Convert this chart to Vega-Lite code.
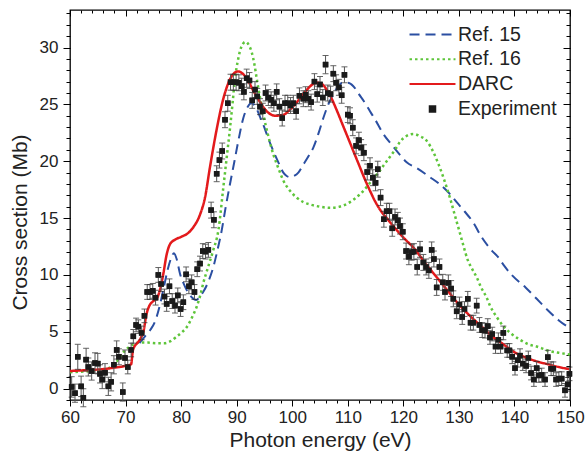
{
  "$schema": "https://vega.github.io/schema/vega-lite/v6.json",
  "width": 500,
  "height": 390,
  "autosize": {"type": "none"},
  "padding": {"left": 70, "top": 10, "right": 15, "bottom": 55},
  "background": "white",
  "config": {
    "view": {"stroke": "black", "strokeWidth": 1.3},
    "font": "Liberation Sans",
    "axis": {"grid": false, "domain": false, "tickColor": "black", "tickWidth": 1, "labelColor": "#222", "titleColor": "#222", "labelFont": "Liberation Sans", "titleFont": "Liberation Sans", "titleFontWeight": "normal", "labelFlush": false, "labelOverlap": false}
  },
  "datasets": {
    "ref15": [
      {"E":72.5,"v":4.0},{"E":73.5,"v":4.6},{"E":74.5,"v":5.2},{"E":75.3,"v":5.9},{"E":76,"v":7.0},{"E":76.8,"v":8.7},{"E":77.6,"v":10.5},{"E":78.3,"v":11.6},{"E":78.7,"v":11.9},{"E":79.2,"v":11.4},{"E":79.8,"v":10.1},{"E":80.5,"v":9.2},{"E":81.2,"v":8.5},{"E":82,"v":8.0},{"E":82.7,"v":7.8},{"E":83.4,"v":8.1},{"E":84.1,"v":8.6},{"E":84.8,"v":9.3},{"E":85.8,"v":10.7},{"E":86.6,"v":12.3},{"E":87.3,"v":13.9},{"E":88,"v":15.9},{"E":88.8,"v":18.0},{"E":89.6,"v":20.0},{"E":90.3,"v":21.8},{"E":91.2,"v":23.8},{"E":92,"v":24.8},{"E":92.6,"v":25.1},{"E":93.4,"v":24.8},{"E":94.2,"v":23.9},{"E":94.8,"v":23.2},{"E":95.7,"v":22.0},{"E":96.6,"v":20.9},{"E":97.5,"v":19.9},{"E":98.4,"v":19.0},{"E":99,"v":18.7},{"E":99.6,"v":18.6},{"E":100.3,"v":18.7},{"E":101.1,"v":19.0},{"E":102,"v":19.7},{"E":103,"v":20.5},{"E":103.8,"v":21.2},{"E":104.7,"v":22.4},{"E":105.6,"v":23.8},{"E":106.5,"v":25.0},{"E":107.4,"v":25.9},{"E":108.3,"v":26.6},{"E":109,"v":26.9},{"E":110,"v":26.9},{"E":111,"v":26.6},{"E":112,"v":25.9},{"E":113.4,"v":24.9},{"E":114,"v":24.4},{"E":115,"v":23.6},{"E":116.4,"v":22.4},{"E":118,"v":21.4},{"E":119.5,"v":20.5},{"E":120.6,"v":19.9},{"E":122.4,"v":19.4},{"E":124.8,"v":18.6},{"E":126.5,"v":18.0},{"E":128.4,"v":17.1},{"E":129.6,"v":16.4},{"E":131,"v":15.6},{"E":132.6,"v":14.6},{"E":134,"v":13.4},{"E":136,"v":12.1},{"E":137,"v":11.6},{"E":138,"v":10.9},{"E":139.5,"v":10.0},{"E":142,"v":8.9},{"E":144,"v":7.9},{"E":146,"v":6.9},{"E":148,"v":6.0},{"E":150,"v":5.3}
    ],
    "ref16": [
      {"E":60,"v":1.45},{"E":64,"v":1.55},{"E":66,"v":1.65},{"E":67.5,"v":1.95},{"E":68.3,"v":2.3},{"E":69,"v":2.8},{"E":69.8,"v":3.3},{"E":70.6,"v":3.65},{"E":71.5,"v":3.9},{"E":72.5,"v":4.05},{"E":74,"v":4.05},{"E":75.5,"v":4.0},{"E":77,"v":4.0},{"E":78,"v":4.15},{"E":79,"v":4.5},{"E":80,"v":4.9},{"E":81,"v":5.4},{"E":82,"v":6.3},{"E":82.8,"v":7.2},{"E":83.5,"v":8.3},{"E":84,"v":9.3},{"E":84.8,"v":10.6},{"E":85.8,"v":12.2},{"E":86.7,"v":13.9},{"E":87.6,"v":17.7},{"E":88.2,"v":20.3},{"E":88.8,"v":22.9},{"E":89.3,"v":25.3},{"E":89.7,"v":27.3},{"E":90.2,"v":28.8},{"E":90.6,"v":29.7},{"E":91.1,"v":30.3},{"E":91.6,"v":30.5},{"E":92.2,"v":30.2},{"E":92.7,"v":29.6},{"E":93.2,"v":28.5},{"E":93.6,"v":27.3},{"E":94.2,"v":25.6},{"E":94.8,"v":24.1},{"E":95.7,"v":22.2},{"E":96.6,"v":20.6},{"E":97.5,"v":19.4},{"E":98.4,"v":18.3},{"E":99.6,"v":17.4},{"E":100.8,"v":16.8},{"E":102,"v":16.4},{"E":103.2,"v":16.2},{"E":105,"v":16.0},{"E":106.8,"v":15.9},{"E":108.5,"v":16.0},{"E":110.4,"v":16.4},{"E":112.2,"v":17.1},{"E":113,"v":17.5},{"E":114,"v":18.1},{"E":115.5,"v":19.0},{"E":117,"v":20.0},{"E":118.5,"v":21.0},{"E":119.4,"v":21.7},{"E":120.5,"v":22.2},{"E":121.8,"v":22.4},{"E":123,"v":22.2},{"E":124.2,"v":21.8},{"E":125.4,"v":20.8},{"E":126.6,"v":19.4},{"E":127.8,"v":17.7},{"E":128.5,"v":16.6},{"E":129.3,"v":15.2},{"E":130,"v":14.0},{"E":130.8,"v":12.6},{"E":131.6,"v":11.3},{"E":132.3,"v":10.6},{"E":133.2,"v":9.8},{"E":134,"v":8.9},{"E":135,"v":8.0},{"E":135.6,"v":7.3},{"E":136.8,"v":6.3},{"E":138,"v":5.5},{"E":139.5,"v":4.8},{"E":141,"v":4.3},{"E":142.5,"v":3.9},{"E":144,"v":3.7},{"E":146.4,"v":3.3},{"E":148,"v":3.15},{"E":150,"v":3.0}
    ],
    "darc": [
      {"E":60,"v":1.55},{"E":62,"v":1.6},{"E":64,"v":1.65},{"E":66,"v":1.72},{"E":68,"v":1.85},{"E":70,"v":2.0},{"E":71,"v":2.15},{"E":71.3,"v":3.3},{"E":71.6,"v":3.7},{"E":72,"v":3.95},{"E":72.8,"v":4.5},{"E":73.3,"v":5.2},{"E":73.7,"v":6.4},{"E":74.2,"v":7.2},{"E":75,"v":7.7},{"E":75.7,"v":8.0},{"E":76.3,"v":8.9},{"E":76.8,"v":10.1},{"E":77.4,"v":11.8},{"E":78,"v":12.7},{"E":78.9,"v":13.1},{"E":80,"v":13.35},{"E":81.3,"v":13.7},{"E":82.2,"v":14.2},{"E":83.4,"v":15.3},{"E":84.3,"v":16.8},{"E":85.2,"v":19.5},{"E":86.4,"v":22.8},{"E":87.6,"v":25.5},{"E":88.8,"v":27.2},{"E":90.2,"v":27.9},{"E":91.8,"v":27.3},{"E":93,"v":26.2},{"E":94.2,"v":25.2},{"E":95.4,"v":24.4},{"E":97,"v":24.0},{"E":98.5,"v":24.1},{"E":99.5,"v":24.5},{"E":100.5,"v":25.0},{"E":101.5,"v":25.6},{"E":102.5,"v":26.2},{"E":103.5,"v":26.7},{"E":104.5,"v":26.9},{"E":105.3,"v":26.8},{"E":106.2,"v":26.3},{"E":107,"v":25.6},{"E":108,"v":24.5},{"E":109,"v":23.3},{"E":110,"v":22.1},{"E":111,"v":20.9},{"E":112,"v":19.7},{"E":113,"v":18.5},{"E":114,"v":17.4},{"E":115,"v":16.4},{"E":116,"v":15.6},{"E":117,"v":15.0},{"E":118,"v":14.4},{"E":120,"v":13.3},{"E":122,"v":12.3},{"E":124,"v":11.0},{"E":126,"v":9.8},{"E":128,"v":8.6},{"E":130,"v":7.4},{"E":132,"v":6.4},{"E":134,"v":5.5},{"E":136,"v":4.6},{"E":138,"v":3.9},{"E":140,"v":3.2},{"E":142,"v":2.75},{"E":144,"v":2.4},{"E":146,"v":2.15},{"E":148,"v":1.9},{"E":150,"v":1.7}
    ],
    "exp": [
      {"E":60.3,"v":0.15,"err":0.9},{"E":60.9,"v":-0.4,"err":0.8},{"E":61.4,"v":2.8,"err":1.1},{"E":62.0,"v":0.2,"err":0.9},{"E":62.4,"v":-0.8,"err":0.8},{"E":62.9,"v":2.55,"err":1.0},{"E":63.3,"v":1.9,"err":0.8},{"E":63.9,"v":1.55,"err":0.8},{"E":64.5,"v":2.25,"err":0.9},{"E":65.0,"v":2.2,"err":0.9},{"E":65.4,"v":1.3,"err":0.8},{"E":65.8,"v":0.8,"err":0.8},{"E":66.3,"v":1.4,"err":0.8},{"E":66.9,"v":0.2,"err":0.8},{"E":67.4,"v":0.6,"err":0.8},{"E":67.9,"v":2.1,"err":0.8},{"E":68.4,"v":3.4,"err":0.8},{"E":68.8,"v":2.8,"err":0.7},{"E":69.5,"v":-0.3,"err":0.8},{"E":69.9,"v":2.7,"err":0.7},{"E":70.4,"v":1.9,"err":0.6},{"E":71.0,"v":3.4,"err":0.6},{"E":71.4,"v":4.6,"err":0.6},{"E":71.9,"v":5.6,"err":0.6},{"E":72.3,"v":5.45,"err":0.6},{"E":72.9,"v":4.9,"err":0.6},{"E":73.4,"v":6.4,"err":0.6},{"E":73.9,"v":8.5,"err":0.65},{"E":74.4,"v":8.5,"err":0.65},{"E":74.9,"v":8.6,"err":0.65},{"E":75.4,"v":8.0,"err":0.65},{"E":75.9,"v":10.0,"err":0.65},{"E":76.4,"v":9.2,"err":0.65},{"E":77.0,"v":8.1,"err":0.65},{"E":77.4,"v":7.45,"err":0.65},{"E":77.9,"v":9.0,"err":0.65},{"E":78.4,"v":7.7,"err":0.65},{"E":78.9,"v":7.3,"err":0.65},{"E":79.4,"v":8.2,"err":0.65},{"E":79.9,"v":7.0,"err":0.65},{"E":80.4,"v":7.6,"err":0.65},{"E":80.9,"v":10.05,"err":0.65},{"E":81.4,"v":9.0,"err":0.65},{"E":81.9,"v":9.35,"err":0.65},{"E":82.4,"v":8.5,"err":0.65},{"E":82.9,"v":10.5,"err":0.65},{"E":83.4,"v":11.0,"err":0.65},{"E":83.9,"v":12.1,"err":0.65},{"E":84.4,"v":12.05,"err":0.65},{"E":84.9,"v":12.2,"err":0.65},{"E":85.4,"v":15.7,"err":0.7},{"E":85.9,"v":14.85,"err":0.7},{"E":86.4,"v":18.9,"err":0.7},{"E":86.9,"v":20.1,"err":0.7},{"E":87.4,"v":20.9,"err":0.7},{"E":87.9,"v":23.65,"err":0.7},{"E":88.4,"v":25.1,"err":0.7},{"E":88.9,"v":26.95,"err":0.7},{"E":89.4,"v":26.95,"err":0.7},{"E":89.9,"v":26.95,"err":0.7},{"E":90.4,"v":26.9,"err":0.7},{"E":90.9,"v":26.6,"err":0.7},{"E":91.3,"v":26.1,"err":0.7},{"E":91.8,"v":27.3,"err":0.8},{"E":92.3,"v":27.1,"err":0.7},{"E":92.8,"v":25.35,"err":0.7},{"E":93.3,"v":26.3,"err":0.7},{"E":93.7,"v":25.7,"err":0.7},{"E":94.2,"v":24.8,"err":0.7},{"E":94.7,"v":24.4,"err":0.7},{"E":95.2,"v":26.0,"err":0.7},{"E":95.7,"v":25.6,"err":0.7},{"E":96.2,"v":25.4,"err":0.7},{"E":96.7,"v":25.1,"err":0.7},{"E":97.2,"v":26.1,"err":0.7},{"E":97.7,"v":24.8,"err":0.7},{"E":98.2,"v":23.8,"err":0.7},{"E":98.7,"v":25.1,"err":0.7},{"E":99.2,"v":25.1,"err":0.7},{"E":99.7,"v":24.9,"err":0.7},{"E":100.2,"v":25.1,"err":0.7},{"E":100.7,"v":24.4,"err":0.7},{"E":101.3,"v":25.75,"err":0.7},{"E":102.0,"v":25.5,"err":0.7},{"E":102.4,"v":25.85,"err":0.7},{"E":102.9,"v":25.5,"err":0.7},{"E":103.4,"v":25.2,"err":0.7},{"E":104.0,"v":27.0,"err":0.7},{"E":104.5,"v":25.9,"err":0.7},{"E":105.0,"v":26.75,"err":0.7},{"E":105.5,"v":25.6,"err":0.7},{"E":106.0,"v":28.5,"err":0.8},{"E":106.4,"v":26.0,"err":0.7},{"E":106.9,"v":25.9,"err":0.7},{"E":107.4,"v":27.7,"err":0.7},{"E":107.9,"v":26.9,"err":0.7},{"E":108.4,"v":26.5,"err":0.7},{"E":108.9,"v":25.8,"err":0.7},{"E":109.4,"v":27.6,"err":0.7},{"E":110.0,"v":24.1,"err":0.7},{"E":110.4,"v":24.0,"err":0.7},{"E":110.9,"v":22.95,"err":0.7},{"E":111.5,"v":21.35,"err":0.7},{"E":112.0,"v":21.85,"err":0.7},{"E":112.4,"v":21.2,"err":0.7},{"E":112.9,"v":20.75,"err":0.7},{"E":113.5,"v":19.05,"err":0.7},{"E":114.0,"v":19.6,"err":0.7},{"E":114.5,"v":18.55,"err":0.7},{"E":115.0,"v":18.1,"err":0.7},{"E":115.4,"v":19.3,"err":0.7},{"E":115.9,"v":16.8,"err":0.7},{"E":116.5,"v":14.9,"err":0.7},{"E":117.0,"v":15.6,"err":0.7},{"E":117.5,"v":15.6,"err":0.7},{"E":118.0,"v":14.1,"err":0.7},{"E":118.5,"v":15.1,"err":0.7},{"E":119.0,"v":14.8,"err":0.7},{"E":119.4,"v":14.3,"err":0.7},{"E":119.9,"v":13.8,"err":0.7},{"E":120.5,"v":12.1,"err":0.7},{"E":121.0,"v":11.6,"err":0.7},{"E":121.5,"v":12.0,"err":0.7},{"E":121.9,"v":12.05,"err":0.7},{"E":122.5,"v":10.7,"err":0.7},{"E":123.0,"v":12.25,"err":0.7},{"E":123.6,"v":11.1,"err":0.7},{"E":124.1,"v":10.7,"err":0.7},{"E":124.6,"v":10.4,"err":0.7},{"E":125.1,"v":12.2,"err":0.7},{"E":125.5,"v":11.4,"err":0.7},{"E":126.0,"v":8.9,"err":0.7},{"E":126.5,"v":10.7,"err":0.7},{"E":127.1,"v":9.35,"err":0.7},{"E":127.5,"v":8.5,"err":0.7},{"E":128.1,"v":9.3,"err":0.7},{"E":128.6,"v":8.8,"err":0.7},{"E":129.0,"v":7.9,"err":0.7},{"E":129.6,"v":6.8,"err":0.65},{"E":130.1,"v":7.4,"err":0.65},{"E":130.6,"v":6.3,"err":0.65},{"E":131.0,"v":7.0,"err":0.65},{"E":131.6,"v":7.9,"err":0.65},{"E":132.1,"v":5.8,"err":0.65},{"E":132.6,"v":5.8,"err":0.65},{"E":133.2,"v":7.3,"err":0.65},{"E":133.7,"v":5.6,"err":0.65},{"E":134.2,"v":5.15,"err":0.65},{"E":134.7,"v":5.1,"err":0.65},{"E":135.2,"v":5.5,"err":0.65},{"E":135.6,"v":4.5,"err":0.6},{"E":136.0,"v":4.8,"err":0.6},{"E":136.6,"v":3.7,"err":0.6},{"E":137.1,"v":4.3,"err":0.6},{"E":137.5,"v":3.7,"err":0.6},{"E":138.0,"v":4.9,"err":0.6},{"E":138.7,"v":3.36,"err":0.6},{"E":139.1,"v":3.36,"err":0.6},{"E":139.6,"v":2.8,"err":0.6},{"E":140.1,"v":1.8,"err":0.6},{"E":140.6,"v":2.5,"err":0.6},{"E":141.0,"v":2.9,"err":0.6},{"E":141.5,"v":2.2,"err":0.6},{"E":142.1,"v":2.0,"err":0.6},{"E":142.5,"v":2.7,"err":0.6},{"E":143.0,"v":1.37,"err":0.6},{"E":143.5,"v":0.8,"err":0.6},{"E":144.0,"v":1.8,"err":0.6},{"E":144.4,"v":1.16,"err":0.6},{"E":144.9,"v":1.2,"err":0.6},{"E":145.5,"v":0.8,"err":0.6},{"E":146.0,"v":2.77,"err":0.6},{"E":146.6,"v":1.75,"err":0.6},{"E":147.0,"v":1.75,"err":0.6},{"E":147.5,"v":0.8,"err":0.6},{"E":148.0,"v":0.88,"err":0.6},{"E":148.5,"v":0.88,"err":0.6},{"E":149.1,"v":-0.15,"err":0.6},{"E":149.6,"v":0.38,"err":0.6},{"E":149.9,"v":1.3,"err":0.6}
    ]
  },
  "layer": [
    {
      "data": {"name": "exp"},
      "mark": {"type": "point", "filled": true, "opacity": 1, "size": 338},
      "encoding": {
        "x": {"field": "E", "type": "quantitative", "scale": {"domain": [60, 150], "nice": false, "zero": false},
          "axis": {"orient": "bottom", "values": [60,62,64,66,68,70,72,74,76,78,80,82,84,86,88,90,92,94,96,98,100,102,104,106,108,110,112,114,116,118,120,122,124,126,128,130,132,134,136,138,140,142,144,146,148,150], "tickSize": 3, "labels": false, "title": null}},
        "y": {"field": "v", "type": "quantitative", "scale": {"domain": [-1, 33.3], "nice": false, "zero": false},
          "axis": {"orient": "left", "values": [-1,0,1,2,3,4,5,6,7,8,9,10,11,12,13,14,15,16,17,18,19,20,21,22,23,24,25,26,27,28,29,30,31,32,33], "tickSize": 4, "labels": false, "title": null}},
        "color": {"datum": "Experiment", "type": "nominal",
          "scale": {"domain": ["Ref. 15", "Ref. 16", "DARC", "Experiment"], "range": ["#2b4fa2", "#5ec53a", "#e31a1c", "#1a1a1a"]},
          "legend": {
            "title": null, "orient": "none", "legendX": 352, "legendY": 14, "padding": 0,
            "labelFont": "Liberation Sans", "labelFontSize": 19.5, "labelColor": "#222",
            "symbolSize": 338, "symbolStrokeWidth": 2, "labelOffset": 15, "rowPadding": 4.8
          }},
        "shape": {"datum": "Experiment", "type": "nominal",
          "scale": {"domain": ["Ref. 15", "Ref. 16", "DARC", "Experiment"], "range": ["M-2.5,0H2.5", "M-2.5,0H2.5", "M-2.5,0H2.5", "M-0.3,-0.3H0.3V0.3H-0.3Z"]}}
      }
    },
    {
      "mark": {"type": "rule", "color": "black", "strokeWidth": 1.2},
      "encoding": {"y": {"datum": 0, "type": "quantitative", "axis": null}}
    },
    {
      "data": {"name": "ref15"},
      "mark": {"type": "line", "strokeWidth": 2, "interpolate": "monotone"},
      "encoding": {
        "x": {"field": "E", "type": "quantitative",
          "axis": {"orient": "bottom", "values": [60,70,80,90,100,110,120,130,140,150], "tickSize": 6, "labelFontSize": 17, "labelPadding": 3, "title": "Photon energy (eV)", "titleFontSize": 21, "titlePadding": 4}},
        "y": {"field": "v", "type": "quantitative",
          "axis": {"orient": "left", "values": [0,5,10,15,20,25,30], "tickSize": 7, "labelFontSize": 17, "labelPadding": 5, "title": "Cross section (Mb)", "titleFontSize": 21, "titlePadding": 9, "titleY": 212}},
        "color": {"datum": "Ref. 15", "type": "nominal"},
        "strokeDash": {"datum": "Ref. 15", "type": "nominal",
          "scale": {"domain": ["Ref. 15", "Ref. 16", "DARC", "Experiment"], "range": [[10, 6], [2.5, 3], [1, 0], [1, 0]]}}
      }
    },
    {
      "data": {"name": "ref16"},
      "mark": {"type": "line", "strokeWidth": 2.5, "interpolate": "monotone"},
      "encoding": {
        "x": {"field": "E", "type": "quantitative", "axis": {"orient": "top", "values": [60,70,80,90,100,110,120,130,140,150], "tickSize": -6, "labels": false, "title": null}},
        "y": {"field": "v", "type": "quantitative", "axis": {"orient": "right", "values": [0,5,10,15,20,25,30], "tickSize": -7, "labels": false, "title": null}},
        "color": {"datum": "Ref. 16", "type": "nominal"},
        "strokeDash": {"datum": "Ref. 16", "type": "nominal"}
      }
    },
    {
      "data": {"name": "darc"},
      "mark": {"type": "line", "strokeWidth": 2.5, "interpolate": "monotone"},
      "encoding": {
        "x": {"field": "E", "type": "quantitative", "axis": {"orient": "top", "values": [60,62,64,66,68,70,72,74,76,78,80,82,84,86,88,90,92,94,96,98,100,102,104,106,108,110,112,114,116,118,120,122,124,126,128,130,132,134,136,138,140,142,144,146,148,150], "tickSize": -3, "labels": false, "title": null}},
        "y": {"field": "v", "type": "quantitative", "axis": {"orient": "right", "values": [-1,0,1,2,3,4,5,6,7,8,9,10,11,12,13,14,15,16,17,18,19,20,21,22,23,24,25,26,27,28,29,30,31,32,33], "tickSize": -4, "labels": false, "title": null}},
        "color": {"datum": "DARC", "type": "nominal"},
        "strokeDash": {"datum": "DARC", "type": "nominal"}
      }
    },
    {
      "data": {"name": "exp"},
      "mark": {"type": "errorbar", "ticks": {"size": 6, "thickness": 1, "color": "#222"}, "rule": {"color": "#555", "strokeWidth": 1}},
      "encoding": {
        "x": {"field": "E", "type": "quantitative", "axis": null},
        "y": {"field": "v", "type": "quantitative", "axis": null},
        "yError": {"field": "err"}
      }
    },
    {
      "data": {"name": "exp"},
      "mark": {"type": "square", "size": 30, "filled": true, "opacity": 1, "color": "#1a1a1a"},
      "encoding": {
        "x": {"field": "E", "type": "quantitative", "axis": null},
        "y": {"field": "v", "type": "quantitative", "axis": null}
      }
    }
  ],
  "resolve": {"axis": {"x": "independent", "y": "independent"}}
}
